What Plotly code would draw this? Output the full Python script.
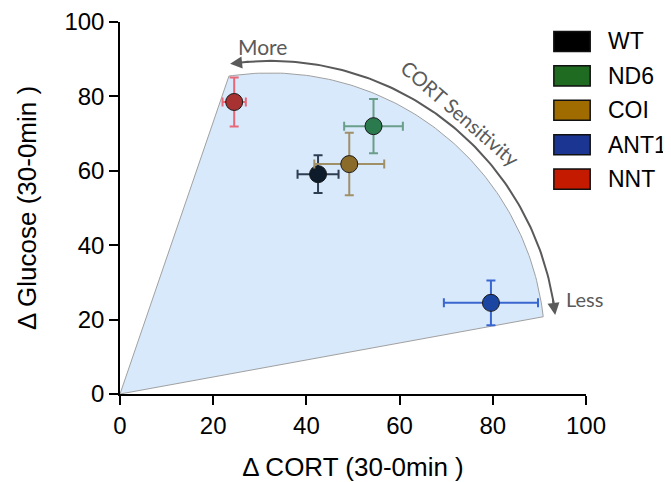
import numpy as np
import plotly.graph_objects as go

# ---- data ----
groups = ["WT", "ND6", "COI", "ANT1", "NNT"]
cort = [42.5, 54.4, 49.2, 79.6, 24.5]
cort_err = [4.4, 6.3, 7.5, 10.1, 2.5]
glucose = [59.1, 72.0, 61.8, 24.5, 78.5]
glucose_err = [5.1, 7.3, 8.4, 6.0, 6.6]

legend_colors = ["#000000", "#1f6b22", "#a06c00", "#1a3592", "#c41a00"]
marker_colors = ["#0d1b2a", "#2a7a4e", "#8b6b2a", "#1a45a0", "#a83232"]
err_colors = ["#2e3d52", "#6a9e8a", "#a09068", "#3a66d0", "#e86878"]

x_ticks = [0, 20, 40, 60, 80, 100]
y_ticks = [0, 20, 40, 60, 80, 100]

# sensitivity region (elliptical sector in data units)
arc_cx, arc_cy, arc_rx, arc_ry = 32.2, 12.4, 59.0, 73.9
arc_a0, arc_a1 = 98.6, 6.5
arrow_scale = 1.044

fig = go.Figure()

t = np.radians(np.linspace(arc_a0, arc_a1, 120))
rx = arc_cx + arc_rx * np.cos(t)
ry = arc_cy + arc_ry * np.sin(t)
fig.add_trace(go.Scatter(
    x=np.concatenate([[0], rx, [0]]), y=np.concatenate([[0], ry, [0]]),
    mode="lines", fill="toself", fillcolor="#d8e9fb",
    line=dict(color="#a0a0a0", width=1), hoverinfo="skip", showlegend=False))

# arrow arc
ta = np.radians(np.linspace(95.0, 9.0, 120))
ax_ = arc_cx + arc_rx * arrow_scale * np.cos(ta)
ay_ = arc_cy + arc_ry * arrow_scale * np.sin(ta)
fig.add_trace(go.Scatter(x=ax_, y=ay_, mode="lines",
                         line=dict(color="#5a5a5a", width=2),
                         hoverinfo="skip", showlegend=False))

def arc_pt(a):
    r = np.radians(a)
    return (arc_cx + arc_rx * arrow_scale * np.cos(r),
            arc_cy + arc_ry * arrow_scale * np.sin(r))

for tail, tip in [(94.0, 98.0), (10.0, 6.6)]:
    tx, ty = arc_pt(tail)
    hx, hy = arc_pt(tip)
    fig.add_annotation(x=hx, y=hy, ax=tx, ay=ty, xref="x", yref="y",
                       axref="x", ayref="y", showarrow=True, arrowhead=2,
                       arrowsize=1.2, arrowwidth=2, arrowcolor="#5a5a5a",
                       standoff=0, text="")

for i, g in enumerate(groups):
    fig.add_trace(go.Scatter(
        x=[cort[i]], y=[glucose[i]], mode="markers", name=g,
        marker=dict(size=17, color=marker_colors[i],
                    line=dict(color="#1a1a1a", width=1)),
        error_x=dict(type="data", array=[cort_err[i]], color=err_colors[i],
                     thickness=2, width=4.5),
        error_y=dict(type="data", array=[glucose_err[i]], color=err_colors[i],
                     thickness=2, width=4.5),
        showlegend=False))

# manual legend
for i, g in enumerate(groups):
    yc = 0.9476 - i * 0.0925
    fig.add_shape(type="rect", xref="paper", yref="paper",
                  x0=0.931, x1=1.009, y0=yc - 0.027, y1=yc + 0.027,
                  fillcolor=legend_colors[i], line=dict(color="#111111", width=1.5))
    fig.add_annotation(x=1.043, y=yc, xref="paper", yref="paper", text=g,
                       showarrow=False, xanchor="left", yanchor="middle",
                       font=dict(family="Liberation Sans, Arial", size=23, color="#000"))

ann_font = dict(family="Lato, Open Sans", size=20, color="#5a5a5a")
fig.add_annotation(x=30.6, y=93.5, text="More", showarrow=False,
                   font=dict(family="Lato, Open Sans", size=21, color="#5a5a5a"))
fig.add_annotation(x=99.6, y=25.5, text="Less", showarrow=False, font=ann_font)
fig.add_annotation(x=73.0, y=75.5, text="CORT Sensitivity", showarrow=False,
                   textangle=41, font=ann_font)

axis_common = dict(range=[0, 100], showgrid=False, zeroline=False, automargin=False,
                   showline=True, linecolor="#000", linewidth=1.5,
                   ticks="outside", ticklen=9, tickwidth=1.5, tickcolor="#000",
                   tickfont=dict(family="Liberation Sans, Arial", size=24, color="#000"))
fig.update_xaxes(**axis_common, tickvals=x_ticks,
                 title=dict(text="Δ CORT (30-0min )", standoff=20,
                            font=dict(family="Liberation Sans, Arial", size=26, color="#000")))
fig.update_yaxes(**axis_common, tickvals=y_ticks,
                 title=dict(text="Δ Glucose (30-0min )", standoff=20,
                            font=dict(family="Liberation Sans, Arial", size=26, color="#000")))

fig.update_layout(width=671, height=482, plot_bgcolor="white", paper_bgcolor="white",
                  margin=dict(l=112, r=93, t=14, b=96), showlegend=False)

fig.write_html("out.html")
